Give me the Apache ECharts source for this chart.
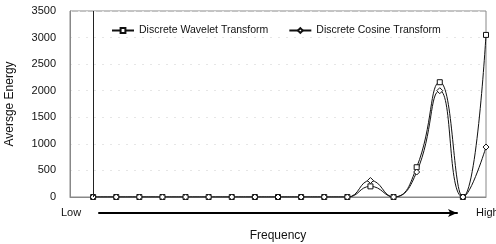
<!DOCTYPE html>
<html>
<head>
<meta charset="utf-8">
<script src="https://cdn.jsdelivr.net/npm/echarts@6/dist/echarts.min.js"></script>
<style>
  html, body { margin: 0; padding: 0; background: #fff; }
  #chart { width: 496px; height: 244px; }
</style>
</head>
<body>
<div id="chart"></div>
<script>
// frequency bins, low -> high (first slot is empty, like the original)
var bins = ['0','1','2','3','4','5','6','7','8','9','10','11','12','13','14','15','16','17','18'];
var dwt = [null, 0, 0, 0, 0, 0, 0, 0, 0, 0, 0, 0, 0, 200, 0, 560, 2160, 0, 3050];
var dct = [null, 0, 0, 0, 0, 0, 0, 0, 0, 0, 0, 0, 0, 310, 0, 470, 2000, 0, 940];
var yTicks = [0, 500, 1000, 1500, 2000, 2500, 3000, 3500];

var myChart = echarts.init(document.getElementById('chart'));
var font = 'Arial, "Liberation Sans", sans-serif';

var option = {
    animation: false,
    backgroundColor: '#fff',
    textStyle: { fontFamily: font },
    grid: [
        { left: 70, top: 11, right: 10, bottom: 47, show: true, borderColor: '#888', borderWidth: 1,
          containLabel: false, outerBoundsMode: 'none' },
        // helper grid for the Low -> High arrow
        { left: 99, right: 39, top: 213, height: 0, outerBoundsMode: 'none' }
    ],
    legend: {
        left: 106, top: 20,
        itemWidth: 22, itemHeight: 6, itemGap: 20,
        textStyle: { fontFamily: font, fontSize: 10.5, color: '#111' },
        data: ['Discrete Wavelet Transform', 'Discrete Cosine Transform']
    },
    xAxis: [
        {
            type: 'category', data: bins, boundaryGap: false, gridIndex: 0,
            name: 'Frequency', nameLocation: 'middle', nameGap: 33,
            nameTextStyle: { fontFamily: font, fontSize: 12, color: '#111' },
            axisLine: { lineStyle: { color: '#888' } },
            axisTick: { show: false }, axisLabel: { show: false }, splitLine: { show: false }
        },
        {
            type: 'value', gridIndex: 1, min: 0, max: 1,
            axisLine: { show: true, symbol: ['none', 'arrow'], symbolSize: [6, 9], lineStyle: { color: '#000', width: 2 } },
            axisTick: { show: false }, axisLabel: { show: false }, splitLine: { show: false }
        }
    ],
    yAxis: [
        {
            type: 'value', min: 0, max: 3500, interval: 500, gridIndex: 0,
            name: 'Aversge Energy', nameLocation: 'middle', nameGap: 54,
            nameTextStyle: { fontFamily: font, fontSize: 12, color: '#111' },
            axisLine: { show: true, lineStyle: { color: '#888' } },
            axisTick: { show: false },
            axisLabel: { fontFamily: font, fontSize: 11, color: '#111', margin: 14,
                formatter: function (v) { return yTicks.indexOf(v) >= 0 ? String(v) : ''; } },
            splitLine: { show: true, lineStyle: { color: '#e6e6e6', type: [2, 6] } }
        },
        {
            type: 'value', gridIndex: 1, show: false
        }
    ],
    graphic: [
        { type: 'text', left: 61, top: 207, style: { text: 'Low', font: '11px ' + font, fill: '#111' } },
        { type: 'text', left: 476, top: 207, style: { text: 'High', font: '11px ' + font, fill: '#111' } }
    ],
    series: [
        {
            name: 'Discrete Wavelet Transform', type: 'line', data: dwt, smooth: 0.5,
            xAxisIndex: 0, yAxisIndex: 0,
            symbol: 'rect', symbolSize: 5, showAllSymbol: true,
            lineStyle: { color: '#111', width: 1 },
            itemStyle: { color: '#fff', borderColor: '#111', borderWidth: 1 },
            markLine: {
                silent: true, symbol: ['none', 'none'], label: { show: false },
                lineStyle: { color: '#222', type: 'solid', width: 1 },
                data: [{ xAxis: '1' }]
            }
        },
        {
            name: 'Discrete Cosine Transform', type: 'line', data: dct, smooth: 0.5,
            xAxisIndex: 0, yAxisIndex: 0,
            symbol: 'diamond', symbolSize: 6, showAllSymbol: true,
            lineStyle: { color: '#111', width: 1 },
            itemStyle: { color: '#fff', borderColor: '#111', borderWidth: 1 }
        }
    ]
};

myChart.setOption(option);
</script>
</body>
</html>
